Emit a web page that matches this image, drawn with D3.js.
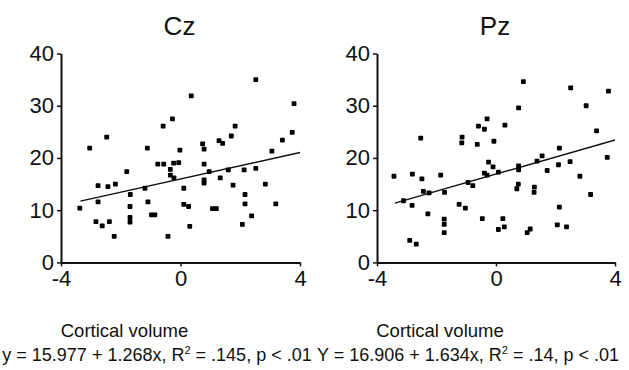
<!DOCTYPE html>
<html>
<head>
<meta charset="utf-8">
<script src="https://cdn.jsdelivr.net/npm/d3@7"></script>
<style>
  body { margin: 0; background: #fff; }
  text { font-family: "Liberation Sans", Arial, sans-serif; fill: #111; }
</style>
</head>
<body>
<div id="chart"></div>
<script>
// chart data
const panelNames = ["Cz", "Pz"];
const xTicks = [-4, 0, 4];
const yTicks = [0, 10, 20, 30, 40];

const czX = [-3.37,-3.04,-2.47,-2.76,-2.43,-2.18,-2.76,-2.83,-2.62,-2.38,-2.22,-1.8,-1.68,-1.69,-1.69,-1.69,
  -1.19,-1.11,-1.09,-0.97,-0.86,-0.76,-0.56,-0.58,-0.27,-0.34,-0.34,-0.22,-0.23,-0.06,-0.02,-0.42,
  0.11,0.11,0.27,0.36,0.31,0.74,0.79,0.79,0.79,0.79,0.96,1.07,1.2,1.29,1.41,1.33,1.6,1.7,1.83,1.76,
  2.13,2.16,2.16,2.07,2.38,2.52,2.52,2.84,3.06,3.19,3.41,3.74,3.8];
const czY = [10.4,21.9,24.0,14.7,14.5,15.0,11.6,7.8,7.0,7.8,5.0,17.4,13.0,10.7,8.6,7.7,
  14.2,21.9,11.6,9.1,9.1,18.8,18.8,26.1,27.5,17.8,16.7,16.2,19.0,19.1,21.5,5.0,
  14.2,11.1,10.7,31.9,6.9,22.7,21.7,18.8,15.8,15.2,17.4,10.3,10.3,23.3,22.8,16.2,17.7,24.2,26.1,14.8,
  17.7,13.0,11.2,7.3,8.9,18.0,35.0,15.0,21.3,11.2,23.4,24.9,30.4];

const pzX = [-3.43,-3.11,-2.82,-2.81,-2.53,-2.49,-2.44,-2.25,-2.29,-2.9,-2.68,-1.86,-1.73,-1.74,-1.74,-1.74,
  -1.24,-1.03,-1.14,-1.15,-0.94,-0.78,-0.59,-0.39,-0.3,-0.63,-0.46,-0.39,-0.3,-0.25,-0.1,-0.07,
  0.08,0.3,0.08,0.23,0.28,0.76,0.92,0.76,0.76,0.75,0.7,1.05,1.15,1.29,1.28,1.38,1.55,1.72,
  2.06,2.13,2.1,2.13,2.37,2.49,2.51,2.82,3.03,3.18,3.38,3.74,3.78];
const pzY = [16.5,11.8,10.9,16.9,23.8,16.0,13.6,13.3,9.3,4.2,3.5,16.7,13.4,8.3,7.3,5.7,
  11.1,10.4,24.0,22.9,15.3,14.7,26.1,25.5,27.5,22.6,8.4,17.1,16.7,19.2,18.3,23.2,
  17.3,26.3,6.3,8.4,6.8,29.6,34.6,18.5,17.7,15.0,14.1,5.7,6.4,14.4,13.4,19.4,20.4,17.6,
  7.2,21.9,18.7,10.6,6.8,19.3,33.4,16.5,30.0,13.0,25.2,20.1,32.8];

// fitted lines (intercept, slope) as printed, and the x span the line covers
const intercepts = [15.977, 16.906];
const slopes = [1.268, 1.634];
const fitStart = [-3.35, -3.4];
const fitEnd = [4, 4];
const fitLabels = ["y = 15.977 + 1.268x, R", "Y = 16.906 + 1.634x, R"];
const fitTails = [" = .145, p < .01", " = .14, p < .01"];

const width = 629;
const height = 370;

const svg = d3.select("#chart")
  .append("svg")
  .attr("width", width)
  .attr("height", height);

const panelLeft = [61, 377];
const panelRight = [300, 615];
const eqCenter = [157, 468];

const yScale = d3.scaleLinear().domain([0, 40]).range([262.4, 53.5]);

const panels = [
  {x: czX, y: czY},
  {x: pzX, y: pzY}
];

panels.forEach(function(p, k) {
  const xScale = d3.scaleLinear().domain([-4, 4]).range([panelLeft[k], panelRight[k]]);
  const g = svg.append("g");

  // y axis
  const yAxis = g.append("g")
    .attr("transform", `translate(${panelLeft[k]},0)`)
    .call(d3.axisLeft(yScale).tickValues(yTicks).tickSize(4).tickPadding(3).tickSizeOuter(0));
  // x axis
  const xAxis = g.append("g")
    .attr("transform", `translate(0,${yScale(0)})`)
    .call(d3.axisBottom(xScale).tickValues(xTicks).tickSize(4).tickPadding(4).tickSizeOuter(0)
      .tickFormat(d => d < 0 ? "-" + Math.abs(d) : d));

  [yAxis, xAxis].forEach(function(a) {
    a.select(".domain").attr("stroke", "#111").attr("stroke-width", 2);
    a.selectAll(".tick line").attr("stroke", "#111").attr("stroke-width", 1.5);
    a.selectAll(".tick text")
      .attr("font-family", "Liberation Sans, Arial, sans-serif")
      .attr("font-size", 22)
      .attr("fill", "#111");
  });

  // fitted line
  g.append("line")
    .attr("x1", xScale(fitStart[k]))
    .attr("y1", yScale(intercepts[k] + slopes[k] * fitStart[k]))
    .attr("x2", xScale(fitEnd[k]))
    .attr("y2", yScale(intercepts[k] + slopes[k] * fitEnd[k]))
    .attr("stroke", "#111")
    .attr("stroke-width", 1.4);

  // points
  g.selectAll(".pt")
    .data(d3.range(p.x.length))
    .enter()
    .append("rect")
      .attr("class", "pt")
      .attr("x", i => xScale(p.x[i]) - 2.4)
      .attr("y", i => yScale(p.y[i]) - 2.4)
      .attr("width", 4.8)
      .attr("height", 4.8)
      .attr("rx", 0.8)
      .attr("fill", "#000");

  // title
  svg.append("text")
    .attr("x", xScale(0) - 1)
    .attr("y", 35)
    .attr("text-anchor", "middle")
    .attr("font-size", 26)
    .text(panelNames[k]);

  // x label
  svg.append("text")
    .attr("x", xScale(0) - 56)
    .attr("y", 337)
    .attr("text-anchor", "middle")
    .attr("font-size", 18.5)
    .text("Cortical volume");

  // regression equation
  const eq = svg.append("text")
    .attr("x", eqCenter[k])
    .attr("y", 361)
    .attr("text-anchor", "middle")
    .attr("font-size", 18);
  eq.append("tspan").text(fitLabels[k]);
  eq.append("tspan").attr("dy", -7).attr("font-size", 11).text("2");
  eq.append("tspan").attr("dy", 7).text(fitTails[k]);
});
</script>
</body>
</html>
